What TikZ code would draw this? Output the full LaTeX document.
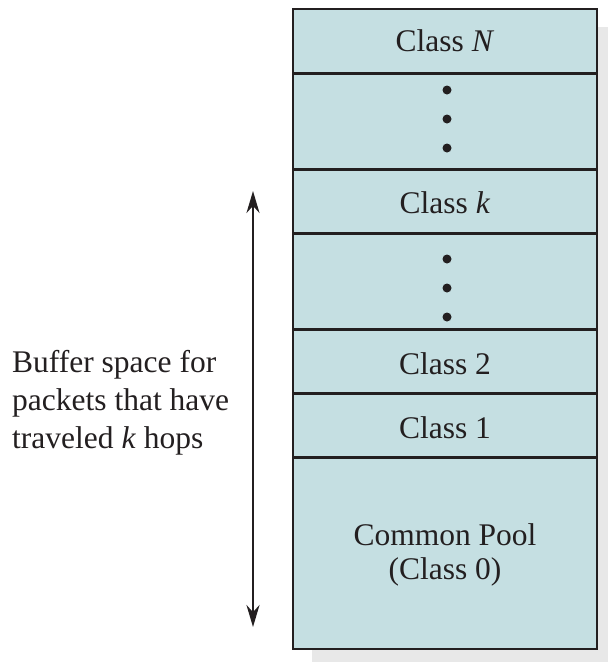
\documentclass[tikz,border=0pt]{standalone}
\usepackage{fontspec}
\setmainfont{Liberation Serif}
\usetikzlibrary{arrows.meta}
\definecolor{poolblue}{RGB}{197,223,226}
\definecolor{shadowgray}{RGB}{232,232,232}
\definecolor{inkdark}{RGB}{35,31,32}
\tikzset{
  classlabel/.style={inner sep=0pt, text=inkdark, align=center,
    font=\fontsize{31.5}{34}\selectfont},
  sidelabel/.style={inner sep=0pt, text=inkdark, align=left,
    font=\fontsize{31.5}{38}\selectfont},
  divider/.style={draw=inkdark, line width=3pt},
  hopsarrow/.style={inkdark, line width=2.5pt,
    {Stealth[length=22pt,width=13pt]}-{Stealth[length=22pt,width=13pt]}}
}
\begin{document}
\begin{tikzpicture}[x=1pt,y=-1pt]
    \useasboundingbox (0,0) rectangle (608,662);
    % Shadow
    \fill[shadowgray] (312,27) rectangle (608,662);
    % Stack box
    \fill[poolblue] (293,9) rectangle (597,649);
    % Dividers
    \foreach \y in {73,169,233,329,393,457}
        \draw[divider] (293,\y) -- (597,\y);
    \draw[inkdark, line width=1.5pt] (293,9) rectangle (597,649);

    % Class labels
    \node[classlabel] (classN) at (445,41) {Class \textit{N}};
    \node[classlabel] (classk) at (445,203) {Class \textit{k}};
    \node[classlabel] (classtwo) at (445,364) {Class 2};
    \node[classlabel] (classone) at (445,428) {Class 1};
    \node[classlabel] (commonpool) at (445,555) {Common Pool\\(Class 0)};

    % Dots
    \foreach \y in {90,119,148,259,288,317}
        \fill[inkdark] (447,\y) circle (4.5pt);

    % Arrow and its label
    \coordinate (arrowtop) at (253,191);
    \coordinate (arrowbot) at (253,627);
    \draw[hopsarrow] (arrowbot) -- (arrowtop);
    \node[sidelabel, anchor=west] (bufferlabel) at (12,403)
        {Buffer space for\\packets that have\\traveled \textit{k} hops};
\end{tikzpicture}
\end{document}
